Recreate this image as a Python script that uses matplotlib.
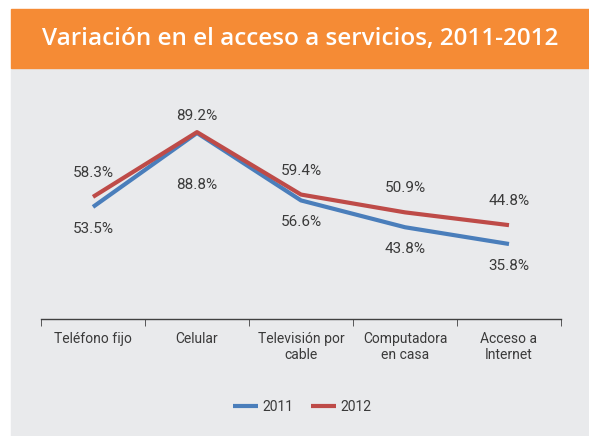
import matplotlib
matplotlib.use("Agg")
import matplotlib.pyplot as plt
from matplotlib.patches import Rectangle

# ─── Data ────────────────────────────────────────────────────────────────────
categories = ["Teléfono fijo", "Celular", "Televisión por\ncable",
              "Computadora\nen casa", "Acceso a\nInternet"]
v2011 = [53.5, 88.8, 56.6, 43.8, 35.8]
v2012 = [58.3, 89.2, 59.4, 50.9, 44.8]

ORANGE = "#F58B35"
PANEL = "#E9EAEC"
BLUE = "#4A7EBB"
RED = "#BE4B48"
TEXT = "#3a3a3a"

plt.rcParams["font.family"] = ["Roboto", "DejaVu Sans"]

W, H = 589, 436
fig = plt.figure(figsize=(W / 100, H / 100), dpi=100, facecolor="white")

# background pieces: grey panel and orange title banner
fig.patches.append(Rectangle((11 / W, 0), 1 - 11 / W, (H - 68) / H,
                             transform=fig.transFigure, color=PANEL, zorder=-2))
fig.patches.append(Rectangle((11 / W, (H - 68) / H), 1 - 11 / W, 59 / H,
                             transform=fig.transFigure, color=ORANGE, zorder=-2))
fig.text((11 + W) / 2 / W, (H - 39) / H, "Variación en el acceso a servicios, 2011-2012",
         color="white", fontsize=17.5, fontweight="semibold", ha="center", va="center",
         family=["Open Sans", "DejaVu Sans"])

ax = fig.add_axes([41 / W, (H - 319) / H, 520 / W, 209.5 / H])
ax.set_zorder(2)
ax.set_facecolor("none")
x = range(len(categories))
ax.plot(x, v2011, color=BLUE, lw=3, label="2011", solid_capstyle="butt")
ax.plot(x, v2012, color=RED, lw=3, label="2012", solid_capstyle="butt")

ax.set_xlim(-0.5, len(categories) - 0.5)
ax.set_ylim(0, 100)
for s in ["top", "right", "left"]:
    ax.spines[s].set_visible(False)
ax.spines["bottom"].set_color("#404040")
ax.spines["bottom"].set_linewidth(1)
ax.set_yticks([])
ax.set_xticks(list(x))
ax.set_xticklabels(categories, fontsize=10, color=TEXT, linespacing=1.25)
ax.tick_params(axis="x", which="major", length=0, pad=9)
ax.set_xticks([i - 0.5 for i in range(len(categories) + 1)], minor=True)
ax.tick_params(axis="x", which="minor", length=5, color="#404040", direction="out")

# data labels: 2012 above, 2011 below (Celular labels placed further apart)
for i, (a, b) in enumerate(zip(v2011, v2012)):
    off_b = 52 if i == 1 else 22
    ax.annotate(f"{a:.1f}%", (i, a), xytext=(0, -off_b), textcoords="offset pixels",
                ha="center", va="center", fontsize=11, color=TEXT)
    ax.annotate(f"{b:.1f}%", (i, b), xytext=(0, 16 if i == 1 else 24),
                textcoords="offset pixels", ha="center", va="center",
                fontsize=11, color=TEXT)

ax.legend(loc="center", bbox_to_anchor=(302 / W, (H - 407) / H),
          bbox_transform=fig.transFigure, ncol=2, frameon=False, fontsize=10,
          handlelength=1.8, handletextpad=0.3, columnspacing=1.3,
          labelcolor=TEXT)

fig.savefig("out.png", dpi=100, facecolor="white")
